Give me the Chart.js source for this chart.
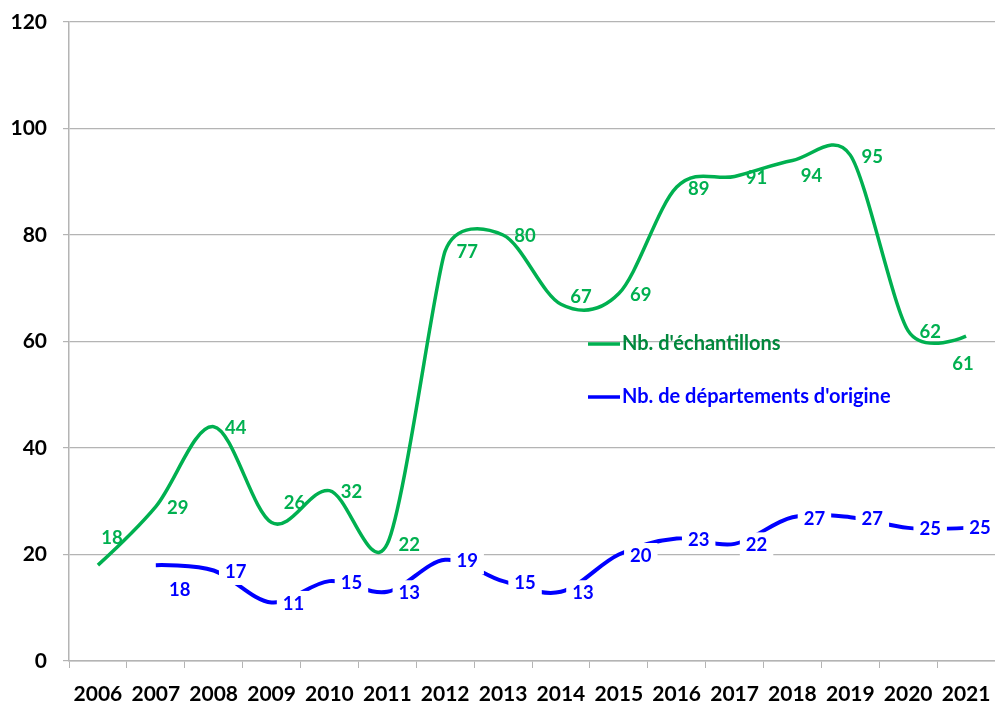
<!DOCTYPE html>
<html>
<head>
<meta charset="utf-8">
<script src="https://cdn.jsdelivr.net/npm/chart.js@4/dist/chart.umd.min.js"></script>
<style>
  html, body { margin: 0; padding: 0; background: #fff; }
  canvas { display: block; }
</style>
</head>
<body>
<canvas id="chart" width="995" height="704"></canvas>
<script>
// data
const years = ['2006', '2007', '2008', '2009', '2010', '2011', '2012', '2013',
               '2014', '2015', '2016', '2017', '2018', '2019', '2020', '2021'];
const nbEchantillons = [18, 29, 44, 26, 32, 22, 77, 80, 67, 69, 89, 91, 94, 95, 62, 61];
const nbDepartements = [null, 18, 17, 11, 15, 13, 19, 15, 13, 20, 23, 22, 27, 27, 25, 25];
const yTicks = [0, 20, 40, 60, 80, 100, 120];

const GREEN = '#00B050';
const BLUE = '#0000FF';
const GRID = '#b4b4b4';
const FONT = 'Lato, "Open Sans", sans-serif';

// decalage des etiquettes (px) : par defaut a droite du point
const LABEL_DX = 22, LABEL_DY = 1.5;
const greenShift = { 0: [14, -27], 3: [23, -20], 8: [20, -7], 12: [19, 16], 15: [-3, 28] };
const blueShift = { 1: [24, 25], 15: [14, 0] };

// lissage facon Excel (bezier, tension 1/6 reduite si depassement)
const excelSmooth = {
    id: 'excelSmooth',
    afterDatasetsUpdate(chart) {
        chart.data.datasets.forEach((ds, di) => {
            const meta = chart.getDatasetMeta(di);
            const pts = meta.data.filter((p, i) => ds.data[i] !== null && ds.data[i] !== undefined);
            const dist = (a, b) => Math.hypot(a.x - b.x, a.y - b.y);
            pts.forEach((p, i) => {
                const p0 = pts[i - 1] || p;
                const p2 = pts[i + 1] || p;
                const d02 = dist(p0, p2), d01 = dist(p0, p), d12 = dist(p, p2);
                let f = 1 / 6;
                if (!(d02 / 6 < d01 / 2 && d02 / 6 < d12 / 2)) {
                    f = d02 > 0 ? Math.min(d01, d12) / (2 * d02) : 0;
                }
                const tx = (p2.x - p0.x) * f, ty = (p2.y - p0.y) * f;
                p.cp1x = p.x - tx; p.cp1y = p.y - ty;
                p.cp2x = p.x + tx; p.cp2y = p.y + ty;
            });
            if (meta.dataset) meta.dataset._pointsUpdated = true;
        });
    }
};

// etiquettes de valeurs (bleu avec fond blanc)
const valueLabels = {
    id: 'valueLabels',
    afterDatasetsDraw(chart) {
        const ctx = chart.ctx;
        ctx.save();
        ctx.font = 'bold 18.5px ' + FONT;
        ctx.textAlign = 'center';
        ctx.textBaseline = 'middle';
        const sets = [
            { idx: 1, shift: blueShift, color: BLUE, box: true },
            { idx: 0, shift: greenShift, color: GREEN, box: false }
        ];
        sets.forEach(s => {
            const meta = chart.getDatasetMeta(s.idx);
            const values = chart.data.datasets[s.idx].data;
            meta.data.forEach((pt, i) => {
                if (values[i] === null || values[i] === undefined) return;
                const sh = s.shift[i] || [LABEL_DX, LABEL_DY];
                const x = pt.x + sh[0];
                const y = pt.y + sh[1];
                const txt = String(values[i]);
                if (s.box) {
                    const w = ctx.measureText(txt).width + 12;
                    ctx.fillStyle = '#fff';
                    ctx.fillRect(x - w / 2, y - 13, w, 26);
                }
                ctx.fillStyle = s.color;
                ctx.fillText(txt, x, y);
            });
        });
        ctx.restore();
    }
};

// legende placee dans la zone du graphique
const innerLegend = {
    id: 'innerLegend',
    afterDraw(chart) {
        const ctx = chart.ctx;
        const items = [
            { text: "Nb. d'échantillons", line: GREEN, color: '#00873C', y: 344 },
            { text: "Nb. de départements d'origine", line: BLUE, color: BLUE, y: 397 }
        ];
        ctx.save();
        ctx.font = 'bold 20px ' + FONT;
        ctx.textBaseline = 'middle';
        ctx.textAlign = 'left';
        items.forEach(it => {
            ctx.strokeStyle = it.line;
            ctx.lineWidth = 3.5;
            ctx.beginPath();
            ctx.moveTo(588, it.y);
            ctx.lineTo(620, it.y);
            ctx.stroke();
            ctx.fillStyle = it.color;
            ctx.fillText(it.text, 622, it.y);
        });
        ctx.restore();
    }
};

new Chart(document.getElementById('chart'), {
    type: 'line',
    data: {
        labels: years,
        datasets: [
            {
                label: "Nb. d'échantillons",
                data: nbEchantillons,
                borderColor: GREEN,
                backgroundColor: GREEN,
                borderWidth: 3.5,
                pointRadius: 0,
                tension: 0.5,
                fill: false
            },
            {
                label: "Nb. de départements d'origine",
                data: nbDepartements,
                borderColor: BLUE,
                backgroundColor: BLUE,
                borderWidth: 4,
                pointRadius: 0,
                tension: 0.5,
                fill: false
            }
        ]
    },
    options: {
        responsive: false,
        animation: false,
        layout: { padding: { top: 22, right: 0, left: 0, bottom: 0 } },
        plugins: {
            legend: { display: false },
            tooltip: { enabled: false }
        },
        scales: {
            x: {
                offset: true,
                grid: {
                    offset: true,
                    drawOnChartArea: false,
                    drawTicks: true,
                    tickLength: 7,
                    color: GRID
                },
                border: { color: GRID, width: 1.5 },
                ticks: {
                    color: '#000',
                    font: { family: FONT, size: 21, weight: 'bold' },
                    padding: 14,
                    maxRotation: 0,
                    autoSkip: false
                },
                afterFit: scale => {
                    scale.height = 43;
                    scale.paddingLeft = 0;
                    scale.paddingRight = 0;
                }
            },
            y: {
                min: 0,
                max: 120,
                afterBuildTicks: scale => { scale.ticks = yTicks.map(v => ({ value: v })); },
                grid: { color: GRID, tickLength: 6, lineWidth: 1.2 },
                border: { color: GRID, width: 1.5 },
                ticks: {
                    color: '#000',
                    font: { family: FONT, size: 21, weight: 'bold' },
                    padding: 16
                },
                afterFit: scale => {
                    scale.width = 69;
                    scale.paddingTop = 0;
                    scale.paddingBottom = 0;
                }
            }
        }
    },
    plugins: [excelSmooth, valueLabels, innerLegend]
});
</script>
</body>
</html>
